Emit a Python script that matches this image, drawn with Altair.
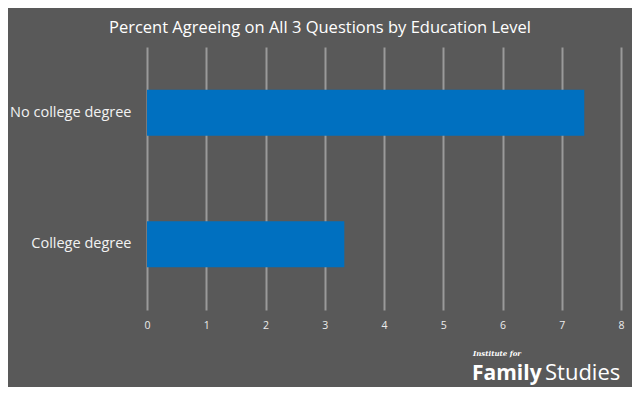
import altair as alt
import pandas as pd

categories = ["No college degree", "College degree"]
values = [7.38, 3.33]
x_ticks = [0, 1, 2, 3, 4, 5, 6, 7, 8]

df = pd.DataFrame({"cat": categories, "val": values})

FONT = "Open Sans"

bars = alt.Chart(df).mark_bar(color="#0070C0").encode(
    x=alt.X("val:Q", scale=alt.Scale(domain=[0, 8], nice=False),
            axis=alt.Axis(values=x_ticks, title=None, grid=True, gridColor="#9a9a9a",
                          gridWidth=2, domain=False, ticks=False,
                          labelColor="#ececec", labelFontSize=10.5, labelFlush=False,
                          labelFont=FONT, labelPadding=10, format="d")),
    y=alt.Y("cat:N", sort=categories,
            scale=alt.Scale(paddingInner=0.65, paddingOuter=0.325),
            axis=alt.Axis(title=None, domain=False, ticks=False, labelColor="#f2f2f2",
                          labelFontSize=14.5, labelFont=FONT, labelPadding=16,
                          labelLimit=200)),
)

logo1 = alt.Chart(pd.DataFrame({"t": ["Institute for"]})).mark_text(
    font="DejaVu Serif", fontStyle="italic", fontWeight="bold", fontSize=7,
    color="white", align="left", baseline="alphabetic"
).encode(text="t:N", x=alt.value(326), y=alt.value(309))

logo2 = alt.Chart(pd.DataFrame({"t": ["Family"]})).mark_text(
    font=FONT, fontWeight="bold", fontSize=21, color="white",
    align="left", baseline="alphabetic"
).encode(text="t:N", x=alt.value(325), y=alt.value(333))

logo3 = alt.Chart(pd.DataFrame({"t": ["Studies"]})).mark_text(
    font=FONT, fontWeight="normal", fontSize=22, color="white",
    align="left", baseline="alphabetic"
).encode(text="t:N", x=alt.value(398), y=alt.value(333))

chart = alt.layer(bars, logo1, logo2, logo3).properties(
    width=474, height=263,
    background="#595959",
    padding={"left": 139, "top": 39, "right": 11, "bottom": 77},
    autosize=alt.AutoSizeParams(type="none"),
    title=alt.TitleParams("Percent Agreeing on All 3 Questions by Education Level",
                          color="white", fontSize=16.5, font=FONT, fontWeight="normal",
                          anchor="middle", dx=-64, offset=11),
).configure_view(stroke=None)

chart.save("out.html", embed_options={"renderer": "svg", "actions": False})
